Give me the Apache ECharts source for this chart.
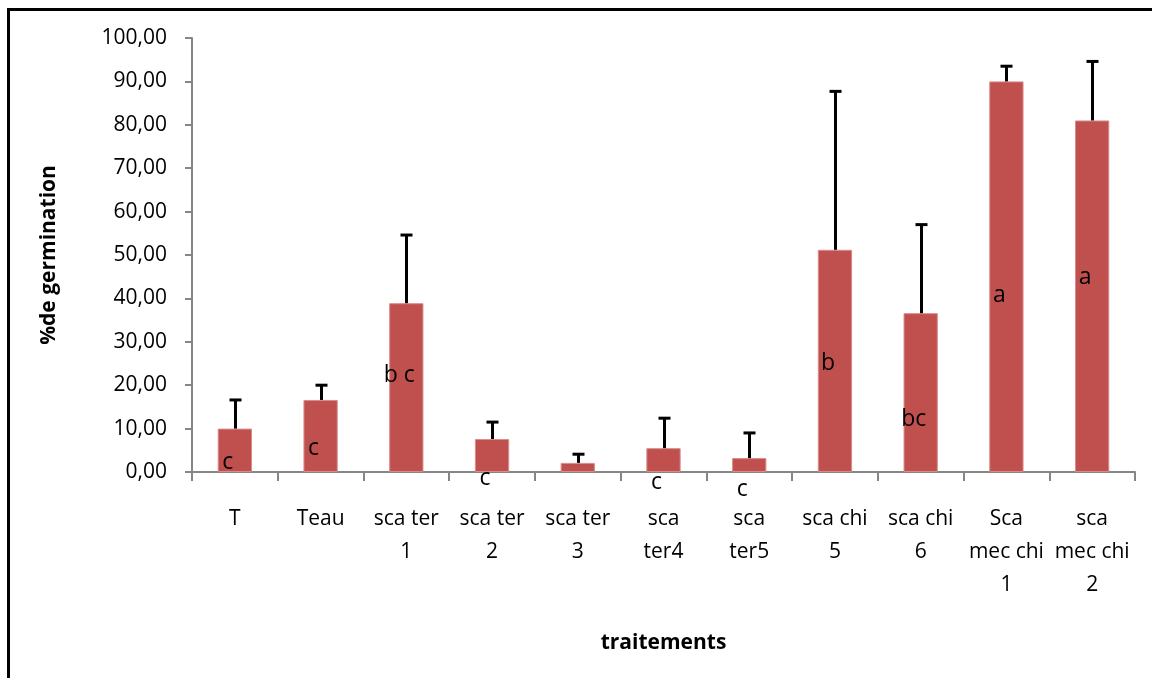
<!DOCTYPE html>
<html>
<head>
<meta charset="utf-8">
<script src="https://cdn.jsdelivr.net/npm/echarts@6/dist/echarts.min.js"></script>
<style>html,body{margin:0;padding:0;background:#fff}#c{width:1152px;height:678px}</style>
</head>
<body>
<div id="c"></div>
<script>
var categories = ["T", "Teau", "sca ter\n1", "sca ter\n2", "sca ter\n3", "sca\nter4", "sca\nter5", "sca chi\n5", "sca chi\n6", "Sca\nmec chi\n1", "sca\nmec chi\n2"];
var means = [10.0, 16.6, 38.9, 7.6, 2.1, 5.5, 3.2, 51.2, 36.6, 90.0, 81.0];
var errorTops = [16.6, 20.0, 54.6, 11.5, 4.1, 12.4, 9.0, 87.7, 57.0, 93.5, 94.6];
var letters = ["c", "c", "b c", "c", "", "c", "c", "b", "bc", "a", "a"];
var letterLevels = [2.3, 5.5, 22.3, -1.4, 0, -2.5, -4.1, 24.9, 12.0, 40.6, 44.9];
var yTicks = [0, 10, 20, 30, 40, 50, 60, 70, 80, 90, 100];

var FONT = "'Open Sans', 'Liberation Sans', sans-serif";
var chart = echarts.init(document.getElementById('c'), null, {renderer: 'canvas'});

var errData = means.map(function (m, i) { return [i, m, errorTops[i]]; });
var letterData = letters.map(function (t, i) { return [i, letterLevels[i], t]; });

chart.setOption({
  animation: false,
  backgroundColor: '#ffffff',
  graphic: [{
    type: 'rect',
    shape: {x: 8.5, y: 9.5, width: 1160, height: 690},
    style: {fill: 'none', stroke: '#000', lineWidth: 3},
    z: 100
  }],
  grid: {left: 192, right: 17, top: 38, bottom: 206, containLabel: false},
  xAxis: {
    type: 'category',
    data: categories,
    name: 'traitements',
    nameLocation: 'middle',
    nameGap: 161,
    nameTextStyle: {fontFamily: FONT, fontSize: 21, fontWeight: 'bold', color: '#000'},
    axisLine: {lineStyle: {color: '#868686', width: 2}},
    axisTick: {show: true, length: 9, lineStyle: {color: '#868686', width: 2}},
    axisLabel: {interval: 0, margin: 31, fontFamily: FONT, fontSize: 21, color: '#000', lineHeight: 33}
  },
  yAxis: {
    type: 'value',
    min: 0, max: 100, interval: 10,
    name: '%de germination',
    nameLocation: 'middle',
    nameRotate: 90,
    nameGap: 132,
    nameTextStyle: {fontFamily: FONT, fontSize: 21, fontWeight: 'bold', color: '#000'},
    splitLine: {show: false},
    axisLine: {show: true, lineStyle: {color: '#868686', width: 2}},
    axisTick: {show: true, length: 7, lineStyle: {color: '#868686', width: 2}},
    axisLabel: {
      margin: 25, fontFamily: FONT, fontSize: 21, color: '#000',
      formatter: function (v) { return v.toFixed(2).replace('.', ','); }
    }
  },
  series: [
    {
      type: 'bar',
      data: means,
      barWidth: '40%',
      itemStyle: {color: '#C0504D', borderColor: '#D98C8A', borderWidth: 1},
      z: 2
    },
    {
      type: 'custom',
      data: errData,
      z: 3,
      renderItem: function (params, api) {
        var x = api.coord([api.value(0), api.value(1)]);
        var t = api.coord([api.value(0), api.value(2)]);
        var cx = Math.round(x[0]) + 0.5;
        return {
          type: 'group',
          children: [
            {type: 'line', shape: {x1: cx, y1: x[1], x2: cx, y2: t[1]}, style: {stroke: '#000', lineWidth: 3}},
            {type: 'line', shape: {x1: cx - 6, y1: t[1], x2: cx + 6, y2: t[1]}, style: {stroke: '#000', lineWidth: 3}}
          ]
        };
      }
    },
    {
      type: 'custom',
      data: letterData,
      z: 4,
      clip: false,
      renderItem: function (params, api) {
        var p = api.coord([api.value(0), api.value(1)]);
        var txt = letters[params.dataIndex];
        return {
          type: 'text',
          x: p[0] - 7,
          y: p[1],
          style: {text: txt, fontFamily: FONT, fontSize: 23, fill: '#000', align: 'center', verticalAlign: 'middle'}
        };
      }
    }
  ]
});
</script>
</body>
</html>
